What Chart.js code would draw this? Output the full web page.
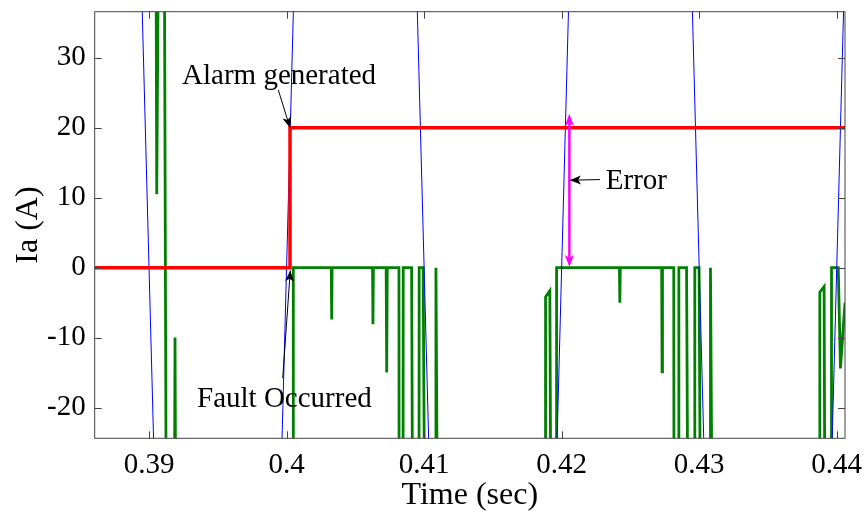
<!DOCTYPE html>
<html>
<head>
<meta charset="utf-8">
<script src="https://cdn.jsdelivr.net/npm/chart.js@4/dist/chart.umd.min.js"></script>
<style>
  html, body { margin: 0; padding: 0; background: #fff; }
  canvas { display: block; }
</style>
</head>
<body>
<canvas id="chart" width="866" height="519"></canvas>
<script>
// axis ticks
const xTicks = [0.39, 0.40, 0.41, 0.42, 0.43, 0.44];
const xLabels = ['0.39', '0.4', '0.41', '0.42', '0.43', '0.44'];
const yTicks = [-20, -10, 0, 10, 20, 30];
const yLabels = ['-20', '-10', '0', '10', '20', '30'];

// supply current (blue), only the steep zero crossings are inside the window
const blueT = [0.3850, 0.38919, 0.39081, 0.3950, 0.39919, 0.40081, 0.4050, 0.40919, 0.41081, 0.4150,
  0.41919, 0.42081, 0.4250, 0.42919, 0.43081, 0.4350, 0.43919, 0.44081, 0.4450];
const blueI = [235, 60, -60, -235, -60, 60, 235, 60, -60, -235,
  -60, 60, 235, 60, -60, -235, -60, 60, 235];

// alarm signal (red)
const redT = [0.3855, 0.40025, 0.40025, 0.4410];
const redI = [0, 0, 20, 20];

// detector output (green)
const greenT = [0.3855, 0.39049, 0.39056, 0.39073, 0.39109, 0.39129, 0.39180, 0.39189, 0.39198,
  0.40048, 0.40049, 0.40325, 0.40328, 0.40331, 0.40625, 0.40628, 0.40631, 0.40724, 0.40728, 0.40732,
  0.40817, 0.40819, 0.40846, 0.40848, 0.40909, 0.40921, 0.40962, 0.40964, 0.40993, 0.41011,
  0.41083, 0.41086, 0.41103,
  0.41882, 0.41883, 0.41914, 0.41927, 0.41962, 0.41963, 0.42420, 0.42423, 0.42426,
  0.42727, 0.42730, 0.42733, 0.42815, 0.42818, 0.42850, 0.42852, 0.42908, 0.42924, 0.42966, 0.42968,
  0.42999, 0.43015, 0.43080, 0.43082, 0.43101,
  0.43876, 0.43877, 0.43908, 0.43918, 0.43960, 0.43962, 0.44011, 0.44027, 0.44060];
const greenI = [60, 60, 10.5, 60, 60, -60, -60, -10, -60,
  -60, 0, 0, -7.4, 0, 0, -8.1, 0, 0, -15, 0,
  0, -60, -60, 0, 0, -60, -60, 0, 0, -60,
  -60, 0, -60,
  -60, -4.2, -3.3, -60, -60, 0, 0, -5.0, 0,
  0, -14.9, 0, 0, -60, -60, 0, 0, -60, -60, 0,
  0, -60, -60, 0, -60,
  -60, -3.5, -2.7, -60, -60, 0, 0, -14.4, -5];

// annotations (data units)
const arrows = [
  { from: [0.39940, 25.4], to: [0.40025, 20.0], color: '#000', width: 1, len: 11, half: 4.5 },
  { from: [0.39972, -15.8], to: [0.40027, -0.4], color: '#000', width: 1, len: 11, half: 4.5 },
  { from: [0.42278, 12.6], to: [0.42060, 12.5], color: '#000', width: 1, len: 11, half: 4.5 }
];
const errorT = 0.42056;
const errorI = [0.1, 22];
const notes = [
  { text: 'Alarm generated', at: [0.39240, 26.3] },
  { text: 'Error', at: [0.42321, 11.2] },
  { text: 'Fault Occurred', at: [0.39349, -19.9] }
];

const serif = "'Liberation Serif', 'Times New Roman', serif";
const pts = (t, v) => t.map((x, i) => ({ x, y: v[i] }));

function head(ctx, fx, fy, tx, ty, len, half) {
  const a = Math.atan2(ty - fy, tx - fx);
  ctx.save();
  ctx.translate(tx, ty);
  ctx.rotate(a);
  ctx.beginPath();
  ctx.moveTo(0, 0);
  ctx.lineTo(-len, -half);
  ctx.lineTo(-len * 0.75, 0);
  ctx.lineTo(-len, half);
  ctx.closePath();
  ctx.fill();
  ctx.restore();
}

function noEdgePad(s) {
  s.paddingTop = 0; s.paddingBottom = 0; s.paddingLeft = 0; s.paddingRight = 0;
}

const framePlugin = {
  id: 'frame',
  afterDatasetsDraw(chart) {
    const { ctx, chartArea: a, scales: { x, y } } = chart;
    ctx.save();
    ctx.strokeStyle = '#444';
    ctx.lineWidth = 1;
    ctx.beginPath();
    xTicks.forEach(v => {
      const p = Math.round(x.getPixelForValue(v)) + 0.5;
      ctx.moveTo(p, a.bottom); ctx.lineTo(p, a.bottom - 7);
      ctx.moveTo(p, a.top); ctx.lineTo(p, a.top + 7);
    });
    yTicks.forEach(v => {
      const p = Math.round(y.getPixelForValue(v)) + 0.5;
      ctx.moveTo(a.left, p); ctx.lineTo(a.left + 7, p);
      ctx.moveTo(a.right, p); ctx.lineTo(a.right - 7, p);
    });
    ctx.stroke();
    ctx.strokeRect(a.left, a.top, a.right - a.left, a.bottom - a.top);

    // error double arrow
    const ex = x.getPixelForValue(errorT);
    const y0 = y.getPixelForValue(errorI[0]);
    const y1 = y.getPixelForValue(errorI[1]);
    ctx.strokeStyle = '#ff00ff';
    ctx.fillStyle = '#ff00ff';
    ctx.lineWidth = 2.5;
    ctx.beginPath();
    ctx.moveTo(ex, y0 - 8); ctx.lineTo(ex, y1 + 8);
    ctx.stroke();
    head(ctx, ex, y1, ex, y0, 12, 4.5);
    head(ctx, ex, y0, ex, y1, 12, 4.5);

    arrows.forEach(ar => {
      const fx = x.getPixelForValue(ar.from[0]), fy = y.getPixelForValue(ar.from[1]);
      const tx = x.getPixelForValue(ar.to[0]), ty = y.getPixelForValue(ar.to[1]);
      ctx.strokeStyle = ar.color;
      ctx.fillStyle = ar.color;
      ctx.lineWidth = ar.width;
      ctx.beginPath();
      ctx.moveTo(fx, fy); ctx.lineTo(tx, ty);
      ctx.stroke();
      head(ctx, fx, fy, tx, ty, ar.len, ar.half);
    });

    ctx.fillStyle = '#000';
    ctx.font = '29px ' + serif;
    ctx.textAlign = 'left';
    ctx.textBaseline = 'alphabetic';
    notes.forEach(n => {
      ctx.fillText(n.text, x.getPixelForValue(n.at[0]), y.getPixelForValue(n.at[1]));
    });
    ctx.restore();
  }
};

new Chart(document.getElementById('chart'), {
  type: 'scatter',
  data: {
    datasets: [
      { label: 'Alarm', data: pts(redT, redI), showLine: true, borderColor: '#ff0000', borderWidth: 3.5, pointRadius: 0, tension: 0 },
      { label: 'Ia', data: pts(blueT, blueI), showLine: true, borderColor: '#0000ff', borderWidth: 1, pointRadius: 0, tension: 0 },
      { label: 'Detector', data: pts(greenT, greenI), showLine: true, borderColor: '#008000', borderWidth: 2.8, pointRadius: 0, tension: 0 }
    ]
  },
  options: {
    responsive: false,
    animation: false,
    layout: { padding: { top: 11.7, right: 21, left: 0, bottom: 0 } },
    plugins: { legend: { display: false }, tooltip: { enabled: false } },
    scales: {
      x: {
        type: 'linear', min: 0.38605, max: 0.4406,
        afterBuildTicks: s => { s.ticks = xTicks.map(v => ({ value: v })); },
        afterFit: s => { s.height = 80.7; noEdgePad(s); },
        grid: { display: false, drawTicks: false },
        border: { display: false },
        ticks: {
          autoSkip: false, maxRotation: 0, padding: 10, color: '#000',
          font: { family: serif, size: 29 },
          callback: (v, i) => xLabels[i]
        },
        title: { display: true, text: 'Time (sec)', color: '#000', font: { family: serif, size: 32 }, padding: { top: 0, bottom: 4 } }
      },
      y: {
        type: 'linear', min: -24.4, max: 36.6,
        afterBuildTicks: s => { s.ticks = yTicks.map(v => ({ value: v })); },
        afterFit: s => { s.width = 94.7; noEdgePad(s); },
        grid: { display: false, drawTicks: false },
        border: { display: false },
        ticks: {
          autoSkip: false, padding: 9, color: '#000',
          font: { family: serif, size: 29 },
          callback: (v, i) => yLabels[i]
        },
        title: { display: true, text: 'Ia (A)', color: '#000', font: { family: serif, size: 32 }, padding: { top: 9, bottom: 0 } }
      }
    }
  },
  plugins: [framePlugin]
});
</script>
</body>
</html>
